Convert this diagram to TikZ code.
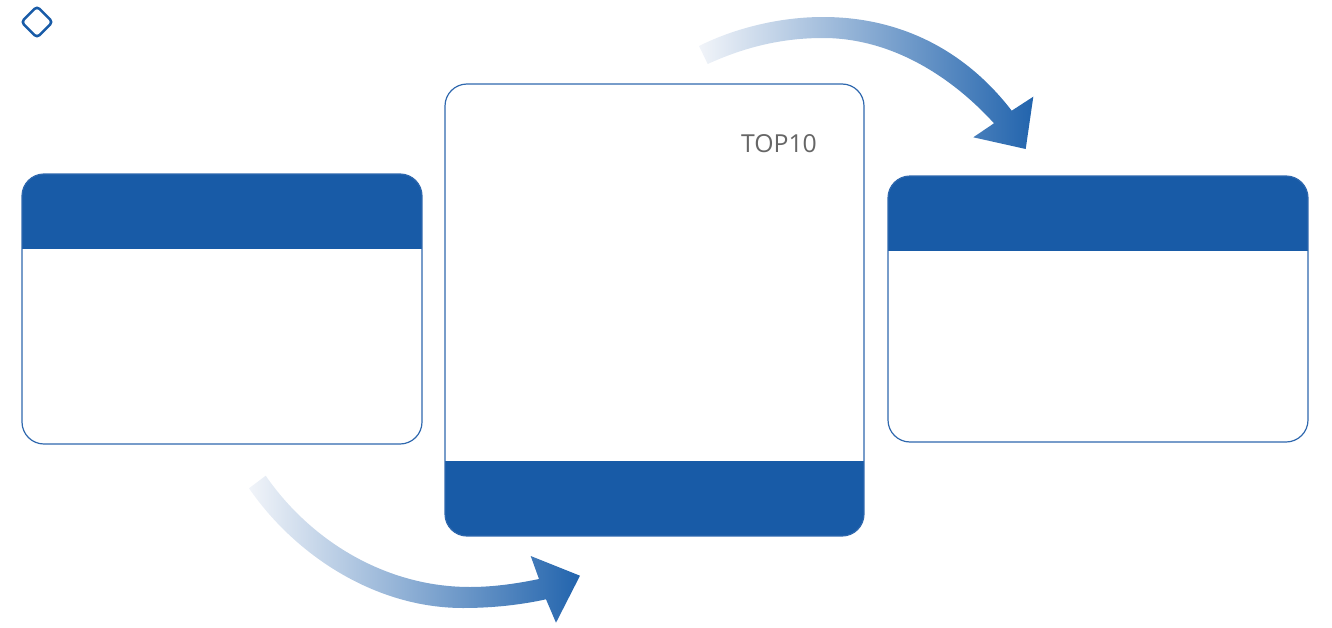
\documentclass[tikz,border=0pt]{standalone}
\usepackage{fontspec}
\setmainfont{Open Sans}
\definecolor{brand}{HTML}{185BA7}
\definecolor{edge}{HTML}{2F68AE}
\definecolor{fadeend}{HTML}{F1F4F9}
\definecolor{fadehead}{HTML}{2264AD}
\definecolor{label}{HTML}{666666}
\tikzset{
  card/.style={draw=edge,line width=0.9pt,rounded corners=16.5pt,fill=white,inner sep=0pt,outer sep=0pt},
  band/.style={fill=brand,sharp corners},
  flow/.style={left color=fadeend,right color=fadehead,draw=none}
}
\begin{document}
\begin{tikzpicture}[x=0.75pt,y=-0.75pt]
\useasboundingbox (0,0) rectangle (1332,628);
% left card
\node[card,minimum width=300pt,minimum height=202.5pt,anchor=north west,
  path picture={\fill[band] (path picture bounding box.north west) rectangle ([yshift=-56.25pt]path picture bounding box.north east);}] (leftcard) at (22,174) {};
% middle card
\node[card,minimum width=314.25pt,minimum height=339pt,anchor=north west,
  path picture={\fill[band] (path picture bounding box.south west) rectangle ([yshift=56.25pt]path picture bounding box.south east);}] (midcard) at (445,84) {};
% right card
\node[card,minimum width=315pt,minimum height=199.5pt,anchor=north west,
  path picture={\fill[band] (path picture bounding box.north west) rectangle ([yshift=-56.25pt]path picture bounding box.north east);}] (rightcard) at (888,176) {};
% small diamond
\node[draw=brand,line width=1.9pt,fill=white,rounded corners=2.5pt,rotate=45,minimum size=16.5pt,inner sep=0pt] (badge) at (37,22) {};
% label
\node[text=label,font=\fontsize{18.6pt}{20pt}\selectfont,anchor=center,inner sep=0pt] (toplabel) at (779,144) {TOP10};
% upper arrow
\shade[flow] (699,46) .. controls (735,28) and (780,17) .. (823,17)
  .. controls (900,17) and (965,50) .. (1011.7,110.7)
  -- (1033.3,96.7) -- (1025.7,149) -- (973.3,137.3) -- (994,123.3)
  .. controls (950,75) and (890,38) .. (823,38)
  .. controls (782,38) and (745,47) .. (707.7,64) -- cycle;
% lower arrow
\shade[flow] (249,488.3) .. controls (295,555) and (375,608) .. (463,608)
  .. controls (492,608) and (520,605) .. (546,599.3)
  -- (556,622.7) -- (580,575.7) -- (530.7,556) -- (539,579)
  .. controls (515,584) and (492,587) .. (470,587)
  .. controls (385,587) and (310,540) .. (265.7,475.7) -- cycle;
\end{tikzpicture}
\end{document}
